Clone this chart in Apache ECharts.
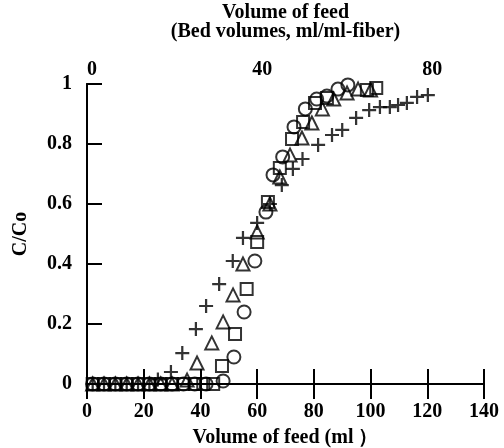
<!DOCTYPE html>
<html>
<head>
<meta charset="utf-8">
<script src="https://cdn.jsdelivr.net/npm/echarts@6/dist/echarts.min.js"></script>
<style>
  html, body { margin: 0; padding: 0; background: #fff; }
  #chart { width: 504px; height: 448px; }
</style>
</head>
<body>
<div id="chart"></div>
<script>
// 数据: [体积(ml), C/Co]
var circleData = [
  [2, 0], [6, 0], [10, 0], [14, 0], [18, 0], [22, 0], [26, 0], [30, 0], [34, 0], [38, 0], [42, 0],
  [48, 0.01], [51.8, 0.09], [55.4, 0.24], [59.2, 0.41], [63.1, 0.573], [65.6, 0.697],
  [69, 0.757], [73, 0.857], [77, 0.917], [81, 0.95], [84.6, 0.96], [88.5, 0.983], [92, 0.997]
]
var squareData = [
  [2, 0], [6, 0], [10, 0], [14, 0], [18, 0], [22, 0], [26, 0], [30, 0], [34, 0], [38, 0], [41, 0], [44.5, 0],
  [47.6, 0.06], [52.2, 0.167], [56.3, 0.317], [60, 0.473], [63.8, 0.607], [68, 0.72],
  [72.3, 0.817], [76.2, 0.873], [80.4, 0.937], [84.6, 0.953], [98.7, 0.98], [102, 0.987]
]
var triangleData = [
  [2, 0], [6, 0], [10, 0], [14, 0], [18, 0], [22, 0], [26, 0], [30, 0],
  [35.3, 0.013], [38.8, 0.07], [44, 0.137], [48, 0.207], [51.5, 0.297], [55, 0.40], [60, 0.507],
  [64.5, 0.6], [68, 0.69], [71.6, 0.763], [75.8, 0.82], [79.3, 0.87], [83, 0.917], [87, 0.95],
  [91.7, 0.97], [95.6, 0.983], [100, 0.98]
]
var crossData = [
  [2, 0], [6, 0], [10, 0], [14, 0], [18, 0], [22, 0], [25, 0.015],
  [29.6, 0.04], [33.6, 0.103], [38.4, 0.183], [42, 0.26], [46.6, 0.333], [51.4, 0.41], [55, 0.487],
  [60, 0.537], [64.5, 0.6], [68.7, 0.663], [72.6, 0.717], [76, 0.75], [81.5, 0.797], [86.4, 0.83],
  [90, 0.847], [94.9, 0.887], [99.5, 0.913], [103.3, 0.923], [106.8, 0.923], [109.7, 0.93],
  [112.8, 0.937], [116.4, 0.957], [120.2, 0.963]
]
var topLabels = { 0: '0', 60: '40', 120: '80' }   // ml -> 床体积

var font = 'Liberation Serif'
var fs = 20
var plusPath = 'path://M4.2,0H5.8V4.2H10V5.8H5.8V10H4.2V5.8H0V4.2H4.2Z'

var chart = echarts.init(document.getElementById('chart'))

function hollow (symbol, size, data) {
  return {
    type: 'scatter',
    symbol: symbol,
    symbolSize: size,
    clip: false,
    itemStyle: { color: 'rgba(0,0,0,0)', borderColor: '#000', borderWidth: 2 },
    data: data
  }
}

var txt = { fontFamily: font, fontWeight: 'bold', fontSize: fs, color: '#000' }

chart.setOption({
  animation: false,
  grid: { left: 87, right: 20, top: 84, bottom: 64, containLabel: false, outerBoundsMode: 'none' },
  xAxis: [{
    type: 'value',
    min: 0, max: 140, interval: 20,
    name: 'Volume of feed (ml \uff09',
    nameLocation: 'middle',
    nameGap: 44,
    nameTextStyle: txt,
    axisLine: { lineStyle: { color: '#000', width: 2 } },
    axisTick: { inside: true, length: 15, lineStyle: { color: '#000', width: 2 } },
    axisLabel: Object.assign({ margin: 18 }, txt),
    splitLine: { show: false }
  }, {
    type: 'value',
    position: 'top',
    min: 0, max: 140, interval: 20,
    name: 'Volume of feed\n(Bed volumes, ml/ml-fiber)',
    nameLocation: 'middle',
    nameGap: 43,
    nameTextStyle: Object.assign({ lineHeight: 19 }, txt),
    axisLine: { lineStyle: { color: '#000', width: 2 } },
    axisTick: { inside: true, length: 15, lineStyle: { color: '#000', width: 2 } },
    axisLabel: Object.assign({
      margin: 4,
      padding: [0, 0, 0, 10],
      formatter: function (v) { return topLabels[v] || '' }
    }, txt),
    splitLine: { show: false }
  }],
  yAxis: [{
    type: 'value',
    min: 0, max: 1, interval: 0.2,
    name: 'C/Co',
    nameLocation: 'middle',
    nameGap: 56,
    nameTextStyle: txt,
    axisLine: { lineStyle: { color: '#000', width: 2 } },
    axisTick: { inside: true, length: 15, lineStyle: { color: '#000', width: 2 } },
    axisLabel: Object.assign({ margin: 15 }, txt),
    splitLine: { show: false }
  }, {
    type: 'value',
    position: 'right',
    min: 0, max: 1,
    axisLine: { show: true, lineStyle: { color: '#000', width: 2 } },
    axisTick: { show: false },
    axisLabel: { show: false },
    splitLine: { show: false }
  }],
  series: [
    hollow('circle', 13, circleData),
    hollow('rect', 12, squareData),
    hollow('triangle', 13, triangleData),
    {
      type: 'scatter',
      symbol: plusPath,
      symbolSize: 14,
      clip: false,
      itemStyle: { color: '#000' },
      data: crossData
    }
  ]
})
</script>
</body>
</html>
